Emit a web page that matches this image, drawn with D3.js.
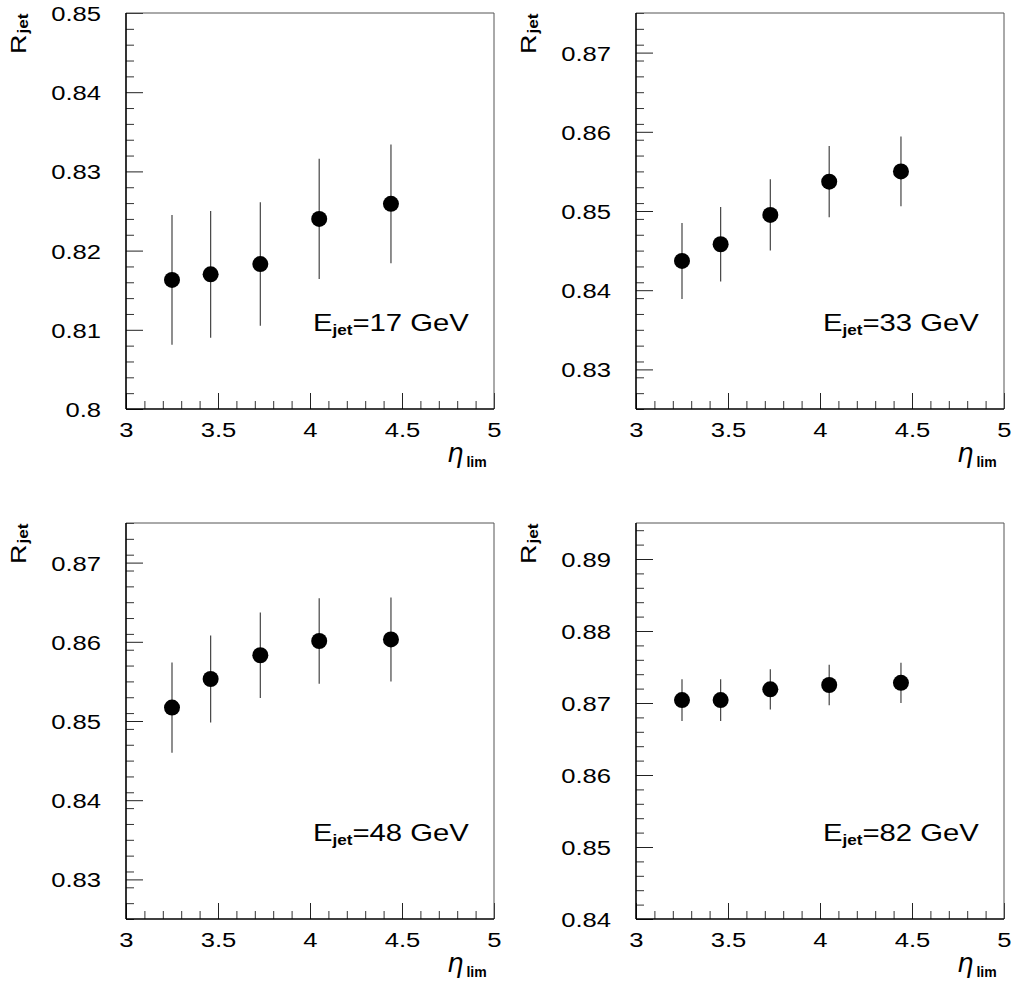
<!DOCTYPE html>
<html>
<head>
<meta charset="utf-8">
<script src="https://cdn.jsdelivr.net/npm/d3@7"></script>
<style>
  html, body { margin: 0; padding: 0; background: #fff; }
  svg { display: block; }
  text { font-family: "Liberation Sans", Arial, Helvetica, sans-serif; fill: #000; }
</style>
</head>
<body>
<svg id="chart" width="1016" height="990"></svg>
<script>
// ---------------- data ----------------
const etaLim = [3.25, 3.46, 3.73, 4.05, 4.44];

const energyLabels = ["17", "33", "48", "82"];

const rjet17 = [0.8163, 0.8170, 0.8183, 0.8240, 0.8259];
const err17  = [0.0082, 0.0080, 0.0078, 0.0076, 0.0075];

const rjet33 = [0.8437, 0.8458, 0.8495, 0.8537, 0.8550];
const err33  = [0.0048, 0.0047, 0.0045, 0.0045, 0.0044];

const rjet48 = [0.8517, 0.8553, 0.8583, 0.8601, 0.8603];
const err48  = [0.0057, 0.0055, 0.0054, 0.0054, 0.0053];

const rjet82 = [0.8704, 0.8704, 0.8719, 0.8725, 0.8728];
const err82  = [0.0029, 0.0029, 0.0028, 0.0028, 0.0028];

const yDomain17 = [0.80, 0.85];
const yDomain33 = [0.825, 0.875];
const yDomain48 = [0.825, 0.875];
const yDomain82 = [0.84, 0.895];

const yTicks17 = [0.80, 0.81, 0.82, 0.83, 0.84, 0.85];
const yTickLabels17 = ["0.8", "0.81", "0.82", "0.83", "0.84", "0.85"];
const yTicks33 = [0.83, 0.84, 0.85, 0.86, 0.87];
const yTickLabels33 = ["0.83", "0.84", "0.85", "0.86", "0.87"];
const yTicks48 = [0.83, 0.84, 0.85, 0.86, 0.87];
const yTickLabels48 = ["0.83", "0.84", "0.85", "0.86", "0.87"];
const yTicks82 = [0.84, 0.85, 0.86, 0.87, 0.88, 0.89];
const yTickLabels82 = ["0.84", "0.85", "0.86", "0.87", "0.88", "0.89"];

const xDomain = [3, 5];
const xTicks = [3, 3.5, 4, 4.5, 5];
const xTickLabels = ["3", "3.5", "4", "4.5", "5"];

// ---------------- layout ----------------
const W = 368, H = 396;
const SX = 1.22;           // horizontal stretch of the wide PAW-like font
const panels = [
  { left: 126, top: 13,  r: rjet17, e: err17, dom: yDomain17, ticks: yTicks17, labels: yTickLabels17, E: energyLabels[0] },
  { left: 636, top: 13,  r: rjet33, e: err33, dom: yDomain33, ticks: yTicks33, labels: yTickLabels33, E: energyLabels[1] },
  { left: 126, top: 523, r: rjet48, e: err48, dom: yDomain48, ticks: yTicks48, labels: yTickLabels48, E: energyLabels[2] },
  { left: 636, top: 523, r: rjet82, e: err82, dom: yDomain82, ticks: yTicks82, labels: yTickLabels82, E: energyLabels[3] }
];

const svg = d3.select("#chart");

function minorTicks(lo, hi, step) {
  const out = [];
  const n = Math.floor((hi - lo) / step + 1e-6);
  for (let i = 0; i <= n; i++) out.push(+(lo + i * step).toFixed(6));
  return out.filter(v => v <= hi + 1e-9);
}

panels.forEach(p => {
  const g = svg.append("g").attr("transform", `translate(${p.left},${p.top})`);
  const x = d3.scaleLinear().domain(xDomain).range([0, W]);
  const y = d3.scaleLinear().domain(p.dom).range([H, 0]);

  // minor ticks
  const yMinor = minorTicks(p.dom[0], p.dom[1], 0.002).filter(v => !p.ticks.some(t => Math.abs(t - v) < 1e-6));
  g.append("g")
    .call(d3.axisLeft(y).tickValues(yMinor).tickSize(-8).tickFormat(""))
    .call(a => a.select(".domain").remove())
    .call(a => a.selectAll("line").attr("stroke", "#333"));
  const xMinor = minorTicks(3, 5, 0.1).filter(v => !xTicks.some(t => Math.abs(t - v) < 1e-6));
  g.append("g").attr("transform", `translate(0,${H})`)
    .call(d3.axisBottom(x).tickValues(xMinor).tickSize(-8).tickFormat(""))
    .call(a => a.select(".domain").remove())
    .call(a => a.selectAll("line").attr("stroke", "#333"));

  // major y axis
  g.append("g")
    .call(d3.axisLeft(y).tickValues(p.ticks).tickSize(-17).tickPadding(25)
      .tickFormat((d, i) => p.labels[i]))
    .call(a => a.select(".domain").remove())
    .call(a => a.selectAll("line").attr("stroke", "#222"))
    .call(a => a.selectAll("text")
      .attr("font-size", 21)
      .attr("font-family", "'Liberation Sans', Arial, sans-serif")
      .attr("fill", "#000")
      .attr("x", -25 / SX)
      .attr("dy", "0.36em")
      .attr("transform", `scale(${SX},1)`));

  // major x axis
  g.append("g").attr("transform", `translate(0,${H})`)
    .call(d3.axisBottom(x).tickValues(xTicks).tickSize(-16).tickPadding(13)
      .tickFormat((d, i) => xTickLabels[i]))
    .call(a => a.select(".domain").remove())
    .call(a => a.selectAll("line").attr("stroke", "#222"))
    .call(a => a.selectAll("text")
      .attr("font-size", 21)
      .attr("font-family", "'Liberation Sans', Arial, sans-serif")
      .attr("fill", "#000")
      .attr("transform", `scale(${SX},1)`));

  // frame
  g.append("line").attr("x1", 0).attr("x2", W).attr("y1", 0).attr("y2", 0).attr("stroke", "#555").attr("stroke-width", 1);
  g.append("line").attr("x1", W).attr("x2", W).attr("y1", 0).attr("y2", H).attr("stroke", "#555").attr("stroke-width", 1);
  g.append("line").attr("x1", 0).attr("x2", 0).attr("y1", 0).attr("y2", H).attr("stroke", "#000").attr("stroke-width", 1.6);
  g.append("line").attr("x1", 0).attr("x2", W).attr("y1", H).attr("y2", H).attr("stroke", "#000").attr("stroke-width", 1.6);

  // error bars
  const pts = etaLim.map((eta, i) => ({ eta, r: p.r[i], e: p.e[i] }));
  g.selectAll(".err").data(pts).enter().append("line")
    .attr("x1", d => x(d.eta)).attr("x2", d => x(d.eta))
    .attr("y1", d => y(d.r - d.e)).attr("y2", d => y(d.r + d.e))
    .attr("stroke", "#444").attr("stroke-width", 1.2);

  // markers
  g.selectAll(".pt").data(pts).enter().append("circle")
    .attr("cx", d => x(d.eta)).attr("cy", d => y(d.r)).attr("r", 8)
    .attr("fill", "#000");

  // annotation E_jet = xx GeV
  const ann = g.append("text")
    .attr("transform", `translate(187,318) scale(${SX},1)`)
    .attr("font-size", 24);
  ann.append("tspan").text("E");
  ann.append("tspan").attr("font-size", 14).attr("font-weight", "bold").attr("dy", 4).text("jet");
  ann.append("tspan").attr("dy", -4).text("=" + p.E + " GeV");

  // x title eta_lim
  const xt = g.append("text")
    .attr("transform", `translate(321,${H + 53})`);
  xt.append("tspan").attr("font-size", 26).attr("font-style", "italic")
    .attr("font-family", "'DejaVu Sans', sans-serif").text("η");
  xt.append("tspan").attr("font-size", 14).attr("font-weight", "bold").attr("dx", 3).attr("dy", 5).text("lim");

  // y title R_jet
  const yt = g.append("text")
    .attr("transform", `translate(-100,41) rotate(-90) scale(${SX},1)`)
    .attr("font-size", 22);
  yt.append("tspan").text("R");
  yt.append("tspan").attr("font-size", 14).attr("font-weight", "bold").attr("dx", 1).attr("dy", 2).text("jet");
});
</script>
</body>
</html>
